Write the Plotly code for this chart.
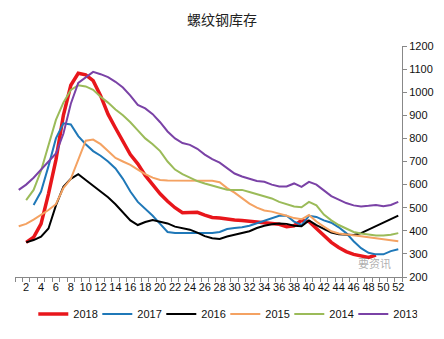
import plotly.graph_objects as go

title = "螺纹钢库存"

weeks_2018 = list(range(2, 50))
v2018 = [350, 372, 430, 560, 707, 900, 1030, 1082, 1075, 1050, 985, 905, 845, 785, 730, 690, 640, 600, 560, 528, 500, 478, 478, 480, 468, 458, 455, 450, 447, 445, 440, 438, 435, 432, 428, 418, 422, 445, 440, 410, 378, 350, 328, 310, 298, 290, 285, 295]

weeks_2017 = list(range(3, 53))
v2017 = [512, 570, 680, 800, 865, 860, 810, 775, 745, 725, 700, 670, 625, 570, 525, 495, 465, 430, 395, 390, 390, 390, 390, 390, 390, 395, 408, 412, 415, 422, 432, 445, 455, 465, 465, 440, 425, 465, 460, 445, 435, 415, 390, 355, 325, 305, 298, 298, 312, 320]

weeks_2016 = list(range(2, 53))
v2016 = [350, 360, 375, 410, 510, 590, 625, 645, 620, 595, 570, 545, 515, 480, 445, 425, 438, 447, 440, 432, 418, 410, 405, 392, 377, 368, 365, 375, 382, 388, 398, 412, 422, 428, 432, 430, 422, 420, 445, 425, 410, 392, 385, 382, 382, 390, 405, 420, 436, 450, 466]

weeks_2015 = list(range(1, 53))
v2015 = [420, 430, 448, 468, 490, 515, 585, 625, 710, 790, 795, 775, 745, 715, 700, 685, 665, 645, 630, 620, 618, 618, 618, 618, 617, 617, 617, 610, 585, 565, 540, 518, 500, 488, 483, 475, 465, 455, 450, 468, 440, 418, 398, 388, 383, 380, 376, 372, 368, 364, 360, 355]

weeks_2014 = list(range(2, 53))
v2014 = [533, 577, 660, 770, 880, 955, 1010, 1030, 1025, 1010, 980, 955, 925, 900, 870, 835, 800, 775, 745, 700, 665, 645, 630, 615, 605, 595, 585, 578, 577, 577, 568, 558, 550, 540, 525, 515, 505, 502, 525, 510, 470, 445, 425, 410, 395, 388, 383, 380, 380, 383, 390]

weeks_2013 = list(range(1, 53))
v2013 = [577, 600, 630, 665, 700, 735, 820, 950, 1040, 1065, 1088, 1078, 1065, 1045, 1020, 985, 945, 930, 905, 870, 830, 800, 780, 772, 755, 730, 710, 695, 670, 648, 635, 625, 616, 612, 600, 592, 592, 605, 590, 612, 600, 575, 550, 535, 520, 510, 505, 508, 512, 506, 512, 525]

x_tickvals = list(range(2, 53, 2))
x_ticktext = [str(v) for v in x_tickvals]
y_tickvals = list(range(200, 1201, 100))

series = [
    ("2018", weeks_2018, v2018, "#e8161b", 3.5),
    ("2017", weeks_2017, v2017, "#1f78b8", 2),
    ("2016", weeks_2016, v2016, "#000000", 2),
    ("2015", weeks_2015, v2015, "#f4a262", 2),
    ("2014", weeks_2014, v2014, "#9bbb59", 2),
    ("2013", weeks_2013, v2013, "#7a42a6", 2),
]

fig = go.Figure()
for name, xs, ys, color, w in series:
    fig.add_trace(go.Scatter(x=xs, y=ys, name=name, mode="lines",
                             line=dict(color=color, width=w)))

font_family = "Liberation Sans, Arial, sans-serif"

fig.update_layout(
    width=444, height=339,
    margin=dict(l=15, r=42, t=46, b=62, autoexpand=False),
    paper_bgcolor="white", plot_bgcolor="white",
    title=dict(text=title, x=0.5, xanchor="center", y=1 - 20 / 339, yanchor="middle",
               font=dict(family="Noto Sans CJK SC", size=14, color="#222")),
    showlegend=True,
    legend=dict(orientation="h", xref="container", yref="container",
                x=0.075, xanchor="left", y=1 - 314 / 339, yanchor="middle",
                font=dict(family=font_family, size=11, color="#111"),
                entrywidth=19, entrywidthmode="pixels", itemwidth=30, tracegroupgap=0,
                bgcolor="rgba(0,0,0,0)"),
    xaxis=dict(range=[0.5, 52.5], tickvals=x_tickvals, ticktext=x_ticktext,
               ticks="", showgrid=False, zeroline=False,
               showline=True, linecolor="#888", linewidth=1,
               tickfont=dict(family=font_family, size=11, color="#111"),
               minor=dict(tick0=0.5, dtick=1, ticks="outside", ticklen=4,
                          tickcolor="#888", showgrid=False)),
    yaxis=dict(range=[200, 1200], tickvals=y_tickvals, side="right",
               showgrid=False, zeroline=False, showline=True, linecolor="#888",
               linewidth=1, ticks="outside", ticklen=4, tickcolor="#888",
               tickfont=dict(family=font_family, size=11, color="#111")),
)

fig.add_annotation(text="要资讯", x=412 / 444, y=1 - 318 / 339, xref="paper", yref="paper",
                   xanchor="center", yanchor="middle", showarrow=False,
                   font=dict(family="Noto Sans CJK SC", size=11, color="rgba(120,120,120,0.6)"))

fig.write_html("out.html")
